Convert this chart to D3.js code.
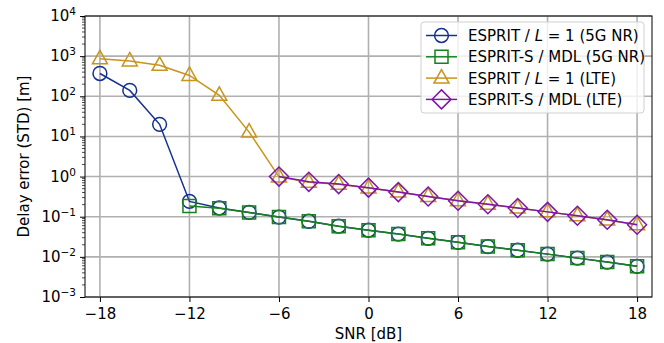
<!DOCTYPE html>
<html>
<head>
<meta charset="utf-8">
<script src="https://cdn.jsdelivr.net/npm/d3@7"></script>
<style>
  body { margin: 0; background: #fff; }
  text { font-family: "DejaVu Sans", sans-serif; fill: #000; }
</style>
</head>
<body>
<script>
var svgWidth = 664;
var svgHeight = 343;
var margin = {top: 16, right: 12, bottom: 46, left: 85};

var width = svgWidth - margin.left - margin.right;
var height = svgHeight - margin.top - margin.bottom;

// data
var snr = [-18, -16, -14, -12, -10, -8, -6, -4, -2, 0, 2, 4, 6, 8, 10, 12, 14, 16, 18];
var espritNR = [370, 140, 20, 0.24, 0.165, 0.128, 0.098, 0.077, 0.058, 0.046, 0.037, 0.029, 0.023, 0.018, 0.0146, 0.0117, 0.0093, 0.0074, 0.0058];
var espritSNR = [null, null, null, 0.185, 0.163, 0.127, 0.098, 0.077, 0.058, 0.046, 0.037, 0.029, 0.023, 0.018, 0.0146, 0.0117, 0.0093, 0.0074, 0.0058];
var espritLTE = [860, 760, 590, 330, 106, 12.8, 0.98, 0.72, 0.64, 0.52, 0.41, 0.32, 0.25, 0.205, 0.165, 0.132, 0.105, 0.083, 0.063];
var espritSLTE = [null, null, null, null, null, null, 1.0, 0.74, 0.65, 0.53, 0.41, 0.32, 0.25, 0.205, 0.165, 0.132, 0.106, 0.084, 0.063];

var xTicks = [-18, -12, -6, 0, 6, 12, 18];
var yExps = [-3, -2, -1, 0, 1, 2, 3, 4];

var series = [
  {name: "ESPRIT / ", italic: "L", rest: " = 1 (5G NR)", values: espritNR, color: "#15318f", marker: "circle"},
  {name: "ESPRIT-S / MDL (5G NR)", values: espritSNR, color: "#17801f", marker: "square"},
  {name: "ESPRIT / ", italic: "L", rest: " = 1 (LTE)", values: espritLTE, color: "#c8941c", marker: "triangle"},
  {name: "ESPRIT-S / MDL (LTE)", values: espritSLTE, color: "#7e16a8", marker: "diamond"}
];

var svg = d3.select("body").append("svg")
  .attr("width", svgWidth)
  .attr("height", svgHeight);

var chartGroup = svg.append("g")
  .attr("transform", "translate(" + margin.left + "," + margin.top + ")");

var x = d3.scaleLinear().domain([-19, 19]).range([0, width]);
var y = d3.scaleLog().domain([1e-3, 1e4]).range([height, 0]);

// grid
chartGroup.append("g").selectAll("line")
  .data(xTicks).enter().append("line")
  .attr("x1", d => x(d)).attr("x2", d => x(d))
  .attr("y1", 0).attr("y2", height)
  .attr("stroke", "#b0b0b0").attr("stroke-width", 1.6);

chartGroup.append("g").selectAll("line")
  .data(yExps).enter().append("line")
  .attr("x1", 0).attr("x2", width)
  .attr("y1", d => y(Math.pow(10, d))).attr("y2", d => y(Math.pow(10, d)))
  .attr("stroke", "#b0b0b0").attr("stroke-width", 1.6);

// axes
var bottomAxis = d3.axisBottom(x).tickValues(xTicks).tickSize(5).tickPadding(6)
  .tickFormat(d => d < 0 ? "\u2212" + Math.abs(d) : d);
var xAxisG = chartGroup.append("g")
  .attr("transform", "translate(0," + height + ")")
  .call(bottomAxis);
xAxisG.selectAll("text").style("font-size", "15px");

var leftAxis = d3.axisLeft(y).tickValues(yExps.map(e => Math.pow(10, e))).tickSize(5).tickFormat("");
var yAxisG = chartGroup.append("g").call(leftAxis);

// minor ticks on log axis
var minor = [];
for (var e = -3; e < 4; e++) {
  for (var m = 2; m < 10; m++) minor.push(m * Math.pow(10, e));
}
chartGroup.append("g").selectAll("line")
  .data(minor).enter().append("line")
  .attr("x1", -3).attr("x2", 0)
  .attr("y1", d => y(d)).attr("y2", d => y(d))
  .attr("stroke", "#000").attr("stroke-width", 0.7);

// y tick labels 10^n
var yLab = chartGroup.append("g").selectAll("text")
  .data(yExps).enter().append("text")
  .attr("x", -9)
  .attr("y", d => y(Math.pow(10, d)) + 5)
  .attr("text-anchor", "end")
  .style("font-size", "15px");
yLab.append("tspan").text("10");
yLab.append("tspan")
  .attr("dy", -6)
  .style("font-size", "10.5px")
  .text(d => d < 0 ? "\u2212" + Math.abs(d) : d);

chartGroup.selectAll(".domain").remove();
chartGroup.selectAll(".tick line").attr("stroke", "#000").attr("stroke-width", 1);

// frame
chartGroup.append("rect")
  .attr("width", width).attr("height", height)
  .attr("fill", "none").attr("stroke", "#000").attr("stroke-width", 1);

// marker shapes
function markerPath(type) {
  if (type === "circle") return d3.symbol(d3.symbolCircle, 150)();
  if (type === "square") return "M-6.5,-6.5H6.5V6.5H-6.5Z";
  if (type === "triangle") return "M0,-8.5L7.5,5L-7.5,5Z";
  return "M0,-9.5L9.5,0L0,9.5L-9.5,0Z";
}

var line = d3.line()
  .defined(d => d.v != null)
  .x(d => x(d.s))
  .y(d => y(d.v));

series.forEach(function(s) {
  var pts = snr.map((v, i) => ({s: v, v: s.values[i]}));
  chartGroup.append("path")
    .datum(pts)
    .attr("d", line)
    .attr("fill", "none")
    .attr("stroke", s.color)
    .attr("stroke-width", 1.5);
  chartGroup.append("g").selectAll("path")
    .data(pts.filter(d => d.v != null)).enter().append("path")
    .attr("d", markerPath(s.marker))
    .attr("transform", d => "translate(" + x(d.s) + "," + y(d.v) + ")")
    .attr("fill", "none")
    .attr("stroke", s.color)
    .attr("stroke-width", 1.5);
});

// legend
var legend = chartGroup.append("g").attr("transform", "translate(" + (421 - margin.left) + "," + (22 - margin.top) + ")");
legend.append("rect")
  .attr("width", 223).attr("height", 91).attr("rx", 3)
  .attr("fill", "#fff").attr("fill-opacity", 0.8)
  .attr("stroke", "#d0d0d0");

series.forEach(function(s, i) {
  var ly = 13.5 + i * 21.3;
  legend.append("line")
    .attr("x1", 5).attr("x2", 36).attr("y1", ly).attr("y2", ly)
    .attr("stroke", s.color).attr("stroke-width", 1.5);
  legend.append("path")
    .attr("d", markerPath(s.marker))
    .attr("transform", "translate(20.5," + ly + ")")
    .attr("fill", "none").attr("stroke", s.color).attr("stroke-width", 1.5);
  var t = legend.append("text")
    .attr("x", 47).attr("y", ly + 5.5)
    .style("font-size", "15px");
  t.append("tspan").text(s.name);
  if (s.italic) {
    t.append("tspan").style("font-style", "italic").text(s.italic);
    t.append("tspan").text(s.rest);
  }
});

// axis titles
chartGroup.append("text")
  .attr("x", width / 2)
  .attr("y", height + 42)
  .attr("text-anchor", "middle")
  .style("font-size", "15px")
  .text("SNR [dB]");

chartGroup.append("text")
  .attr("transform", "rotate(-90)")
  .attr("x", -height / 2)
  .attr("y", -margin.left + 29)
  .attr("text-anchor", "middle")
  .style("font-size", "15px")
  .text("Delay error (STD) [m]");
</script>
</body>
</html>
